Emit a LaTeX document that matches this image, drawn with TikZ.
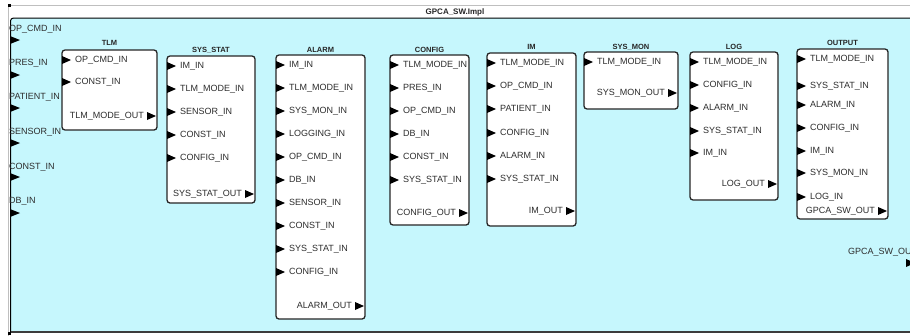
\documentclass[tikz,border=0pt]{standalone}
\usepackage{fontspec}
\setmainfont{Liberation Sans}
\definecolor{bg}{RGB}{198,247,253}
\definecolor{txt}{RGB}{45,45,45}
\definecolor{frame}{RGB}{60,60,60}
\tikzset{
  blk/.style={draw=black!85, line width=1.3pt, rounded corners=3pt, fill=white},
  ttl/.style={font=\fontsize{7.5}{8}\selectfont\bfseries, inner sep=0pt, text=black!85},
  lbl/.style={font=\fontsize{9}{10}\selectfont, inner sep=0pt, text=txt},
  tri/.style={fill=black},
}
% input port: name, x, y, text
\newcommand\inp[4]{%
  \fill[tri] (#2,#3-4) -- (#2+9,#3) -- (#2,#3+4) -- cycle;
  \node[lbl,anchor=west] (#1) at (#2+13,#3) {#4};}
% output port: name, x(right edge), y, text
\newcommand\outp[4]{%
  \fill[tri] (#2-10,#3-4) -- (#2-1,#3) -- (#2-10,#3+4) -- cycle;
  \node[lbl,anchor=east] (#1) at (#2-13,#3) {#4};}
% block: name, x1, y1, x2, y2, title, title y
\newcommand\blkbox[7]{%
  \draw[blk] (#2,#3) rectangle (#4,#5);
  \node[ttl] (#1) at ({(#2+#4)/2},#7) {#6};}
\begin{document}
\begin{tikzpicture}[x=1pt,y=-1pt]
\useasboundingbox (0,0) rectangle (910,335);
\clip (0,0) rectangle (910,335);
\fill[white] (0,0) rectangle (910,335);
% outer frame
\draw[black!25, line width=0.8pt] (8,345) -- (8,5) -- (920,5);
\fill[bg] (10.5,18) rectangle (920,331);
\draw[black, line width=1pt, rounded corners=3pt] (10.5,331) -- (10.5,18) -- (920,18);
\draw[frame, line width=2pt] (10,332) -- (920,332);
\draw[black, line width=1.5pt] (10.5,20) -- (10.5,332);
\fill[black] (7.5,3.5) rectangle (10.5,6.5);
\fill[black] (7.5,331.5) rectangle (10.5,334.5);
\node[ttl,font=\fontsize{8}{9}\selectfont\bfseries] (main) at (455,12) {GPCA\_SW.Impl};
% outer ports
\node[lbl,anchor=west] (o1) at (9,29) {OP\_CMD\_IN};
\fill[tri] (10,36) -- (20,40) -- (10,44) -- cycle;
\node[lbl,anchor=west] (o2) at (9,63) {PRES\_IN};
\fill[tri] (10,71) -- (20,75) -- (10,79) -- cycle;
\node[lbl,anchor=west] (o3) at (9,97) {PATIENT\_IN};
\fill[tri] (10,104) -- (20,108) -- (10,112) -- cycle;
\node[lbl,anchor=west] (o4) at (9,132) {SENSOR\_IN};
\fill[tri] (10,139) -- (20,143) -- (10,147) -- cycle;
\node[lbl,anchor=west] (o5) at (9,167) {CONST\_IN};
\fill[tri] (10,173) -- (20,177) -- (10,181) -- cycle;
\node[lbl,anchor=west] (o6) at (9,201) {DB\_IN};
\fill[tri] (10,209) -- (20,213) -- (10,217) -- cycle;
\node[lbl,anchor=west] (o7) at (848,252) {GPCA\_SW\_OUT};
\fill[tri] (906,259) -- (915,263) -- (906,267) -- cycle;
% TLM
\blkbox{tlm}{62}{50}{157}{130}{TLM}{43}
\inp{tlm1}{62}{60}{OP\_CMD\_IN}
\inp{tlm2}{62}{82}{CONST\_IN}
\outp{tlm3}{157}{116}{TLM\_MODE\_OUT}
% SYS_STAT
\blkbox{ss}{167}{56}{255}{203}{SYS\_STAT}{50}
\inp{ss1}{167}{66}{IM\_IN}
\inp{ss2}{167}{89}{TLM\_MODE\_IN}
\inp{ss3}{167}{112}{SENSOR\_IN}
\inp{ss4}{167}{135}{CONST\_IN}
\inp{ss5}{167}{158}{CONFIG\_IN}
\outp{ss6}{255}{194}{SYS\_STAT\_OUT}
% ALARM
\blkbox{al}{276}{55}{365}{319}{ALARM}{50}
\inp{al1}{276}{65}{IM\_IN}
\inp{al2}{276}{88}{TLM\_MODE\_IN}
\inp{al3}{276}{111}{SYS\_MON\_IN}
\inp{al4}{276}{134}{LOGGING\_IN}
\inp{al5}{276}{157}{OP\_CMD\_IN}
\inp{al6}{276}{180}{DB\_IN}
\inp{al7}{276}{203}{SENSOR\_IN}
\inp{al8}{276}{226}{CONST\_IN}
\inp{al9}{276}{249}{SYS\_STAT\_IN}
\inp{al10}{276}{272}{CONFIG\_IN}
\outp{al11}{365}{306}{ALARM\_OUT}
% CONFIG
\blkbox{cf}{390}{55}{469}{225}{CONFIG}{50}
\inp{cf1}{390}{65}{TLM\_MODE\_IN}
\inp{cf2}{390}{88}{PRES\_IN}
\inp{cf3}{390}{111}{OP\_CMD\_IN}
\inp{cf4}{390}{134}{DB\_IN}
\inp{cf5}{390}{157}{CONST\_IN}
\inp{cf6}{390}{180}{SYS\_STAT\_IN}
\outp{cf7}{469}{213}{CONFIG\_OUT}
% IM
\blkbox{im}{487}{53}{576}{226}{IM}{47}
\inp{im1}{487}{63}{TLM\_MODE\_IN}
\inp{im2}{487}{86}{OP\_CMD\_IN}
\inp{im3}{487}{109}{PATIENT\_IN}
\inp{im4}{487}{133}{CONFIG\_IN}
\inp{im5}{487}{156}{ALARM\_IN}
\inp{im6}{487}{179}{SYS\_STAT\_IN}
\outp{im7}{576}{211}{IM\_OUT}
% SYS_MON
\blkbox{sm}{584}{52}{678}{109}{SYS\_MON}{47}
\inp{sm1}{584}{62}{TLM\_MODE\_IN}
\outp{sm2}{678}{93}{SYS\_MON\_OUT}
% LOG
\blkbox{lg}{690}{52}{778}{200}{LOG}{47}
\inp{lg1}{690}{62}{TLM\_MODE\_IN}
\inp{lg2}{690}{85}{CONFIG\_IN}
\inp{lg3}{690}{108}{ALARM\_IN}
\inp{lg4}{690}{131}{SYS\_STAT\_IN}
\inp{lg5}{690}{153}{IM\_IN}
\outp{lg6}{778}{184}{LOG\_OUT}
% OUTPUT
\blkbox{op}{797}{49}{888}{219}{OUTPUT}{43}
\inp{op1}{797}{59}{TLM\_MODE\_IN}
\inp{op2}{797}{86}{SYS\_STAT\_IN}
\inp{op3}{797}{105}{ALARM\_IN}
\inp{op4}{797}{128}{CONFIG\_IN}
\inp{op5}{797}{151}{IM\_IN}
\inp{op6}{797}{173}{SYS\_MON\_IN}
\inp{op7}{797}{197}{LOG\_IN}
\outp{op8}{888}{211}{GPCA\_SW\_OUT}
\end{tikzpicture}
\end{document}
